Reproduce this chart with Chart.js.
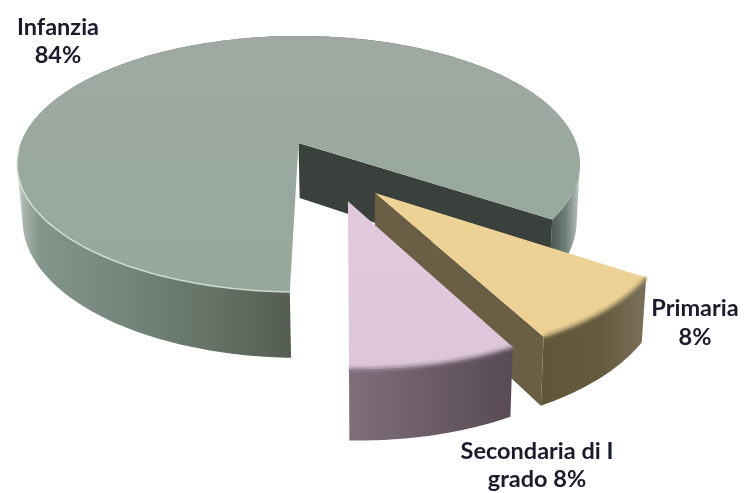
<!DOCTYPE html>
<html>
<head>
<meta charset="utf-8">
<style>html,body{margin:0;padding:0;background:#fff}canvas{display:block}</style>
<script src="https://cdn.jsdelivr.net/npm/chart.js@4"></script>
</head>
<body>
<canvas id="c" width="744" height="493"></canvas>
<script>
const categories = ["Infanzia", "Primaria", "Secondaria di I grado"];
const values = [84, 8, 8];
const labelLines = [["Infanzia", "84%"], ["Primaria", "8%"], ["Secondaria di I", "grado 8%"]];

// view: perspective projection of the unit pie plane onto the page
const view = { cx: 298.5, cy: 143, a: 277.7, b: 124.6, k: 0.164, h: 55, taper: 0.016, vanishX: 372 };
const sliceShift = [[0, 0], [0.2585, 0.3765], [0.1654, 0.4335]];
const sliceRadius = [1, 0.97, 0.965];
const labelPos = [[58, 27, 28], [695, 308, 29], [537, 451, 28]];
const topColors = [["#9fa9a2", "#95a89b"], ["#edd396", "#edd093"], ["#e1c9de", "#dec6da"]];
const sideColors = ["#3a413c", "#6a5e44", "#6b5f6a"];
const rimColors = ["#7d8a80", "#a8976c", "#9d8a9a"];
const wallStops = [
  [[0, "#dfe4e0"], [0.012, "#a8b5ad"], [0.04, "#84958b"], [0.15, "#788a7f"], [0.33, "#677569"], [0.49, "#555d53"],
   [0.94, "#434c47"], [0.975, "#6f7f78"], [0.993, "#a8b3ad"], [1, "#d5dad6"]],
  [[0, "#62563a"], [0.55, "#665a3e"], [1, "#7b7059"]],
  [[0, "#7f6f7a"], [1, "#584b56"]]
];

function project(u, v) {
  const w = 1 / (1 - view.k * v);
  return { x: view.cx + view.a * u * w, y: view.cy + view.b * v * w, w };
}
function lower(p) {
  return { x: p.x - (p.x - view.vanishX) * view.taper, y: p.y + view.h * p.w };
}
function arcPoints(el, i) {
  const pts = [], n = Math.max(12, Math.ceil((el.endAngle - el.startAngle) * 60));
  const r = sliceRadius[i];
  for (let j = 0; j <= n; j++) {
    const t = el.startAngle + (el.endAngle - el.startAngle) * j / n;
    pts.push(project(sliceShift[i][0] + r * Math.cos(t), sliceShift[i][1] + r * Math.sin(t)));
  }
  return pts;
}
function path(ctx, pts, close) {
  ctx.beginPath();
  pts.forEach((p, j) => j ? ctx.lineTo(p.x, p.y) : ctx.moveTo(p.x, p.y));
  if (close) ctx.closePath();
}
function addQuad(ctx, q) {
  let area = 0;
  q.forEach((p, j) => { const n = q[(j + 1) % q.length]; area += p.x * n.y - n.x * p.y; });
  const pts = area < 0 ? q.slice().reverse() : q;
  pts.forEach((p, j) => j ? ctx.lineTo(p.x, p.y) : ctx.moveTo(p.x, p.y));
  ctx.closePath();
}
function drawSlice(ctx, el, i) {
  const arc = arcPoints(el, i);
  const apex = project(sliceShift[i][0], sliceShift[i][1]);
  const xs = arc.map(p => p.x), x0 = Math.min(...xs), x1 = Math.max(...xs);

  // outer wall: one path of same-winding strips, so the silhouette follows the rim tangents
  const g = ctx.createLinearGradient(x0, 0, x1, 0);
  wallStops[i].forEach(s => g.addColorStop(s[0], s[1]));
  ctx.fillStyle = g;
  ctx.beginPath();
  for (let j = 0; j < arc.length - 1; j++) {
    addQuad(ctx, [arc[j], arc[j + 1], lower(arc[j + 1]), lower(arc[j])]);
  }
  ctx.fill("nonzero");

  // radial wall facing the viewer
  if (i < 2) {
    const end = arc[arc.length - 1];
    ctx.fillStyle = sideColors[i];
    path(ctx, [apex, end, lower(end), lower(apex)], true);
    ctx.fill();
  }

  // top face
  const ys = arc.map(p => p.y);
  const tg = ctx.createLinearGradient(0, Math.min(...ys, apex.y), 0, Math.max(...ys));
  tg.addColorStop(0, topColors[i][0]);
  tg.addColorStop(1, topColors[i][1]);
  ctx.fillStyle = tg;
  path(ctx, [apex].concat(arc), true);
  ctx.fill();

  // soft bevel on the outer rim
  ctx.save();
  ctx.lineJoin = "round";
  if (i === 0) {
    const front = arc.filter((p, j) => {
      const t = el.startAngle + (el.endAngle - el.startAngle) * j / (arc.length - 1);
      const deg = (t * 180 / Math.PI) % 360;
      return deg > 85 && deg < 178;
    });
    ctx.filter = "blur(0.7px)";
    ctx.strokeStyle = "rgba(222,234,225,0.75)";
    ctx.lineWidth = 1.6;
    path(ctx, front, false);
    ctx.stroke();
  } else {
    ctx.filter = "blur(1.8px)";
    ctx.strokeStyle = rimColors[i];
    ctx.lineWidth = 3.5;
    path(ctx, arc, false);
    ctx.stroke();
  }
  ctx.restore();
}

const pie3d = {
  id: "pie3d",
  beforeDatasetDraw(chart) {
    const ctx = chart.ctx, els = chart.getDatasetMeta(0).data;
    ctx.save();
    els.forEach((el, i) => drawSlice(ctx, el, i));
    ctx.restore();
    return false;
  },
  afterDraw(chart) {
    const ctx = chart.ctx;
    ctx.save();
    ctx.font = "bold 23.5px Lato";
    ctx.textAlign = "center";
    ctx.textBaseline = "middle";
    ctx.fillStyle = "#1b1b2b";
    labelLines.forEach((lines, i) => {
      lines.forEach((t, j) => ctx.fillText(t, labelPos[i][0], labelPos[i][1] + j * labelPos[i][2]));
    });
    ctx.restore();
  }
};

new Chart(document.getElementById("c"), {
  type: "pie",
  data: { labels: categories, datasets: [{ data: values, backgroundColor: topColors.map(c => c[0]), borderWidth: 0 }] },
  options: {
    responsive: false,
    animation: false,
    rotation: 181.5,
    plugins: { legend: { display: false }, tooltip: { enabled: false } }
  },
  plugins: [pie3d]
});
</script>
</body>
</html>
